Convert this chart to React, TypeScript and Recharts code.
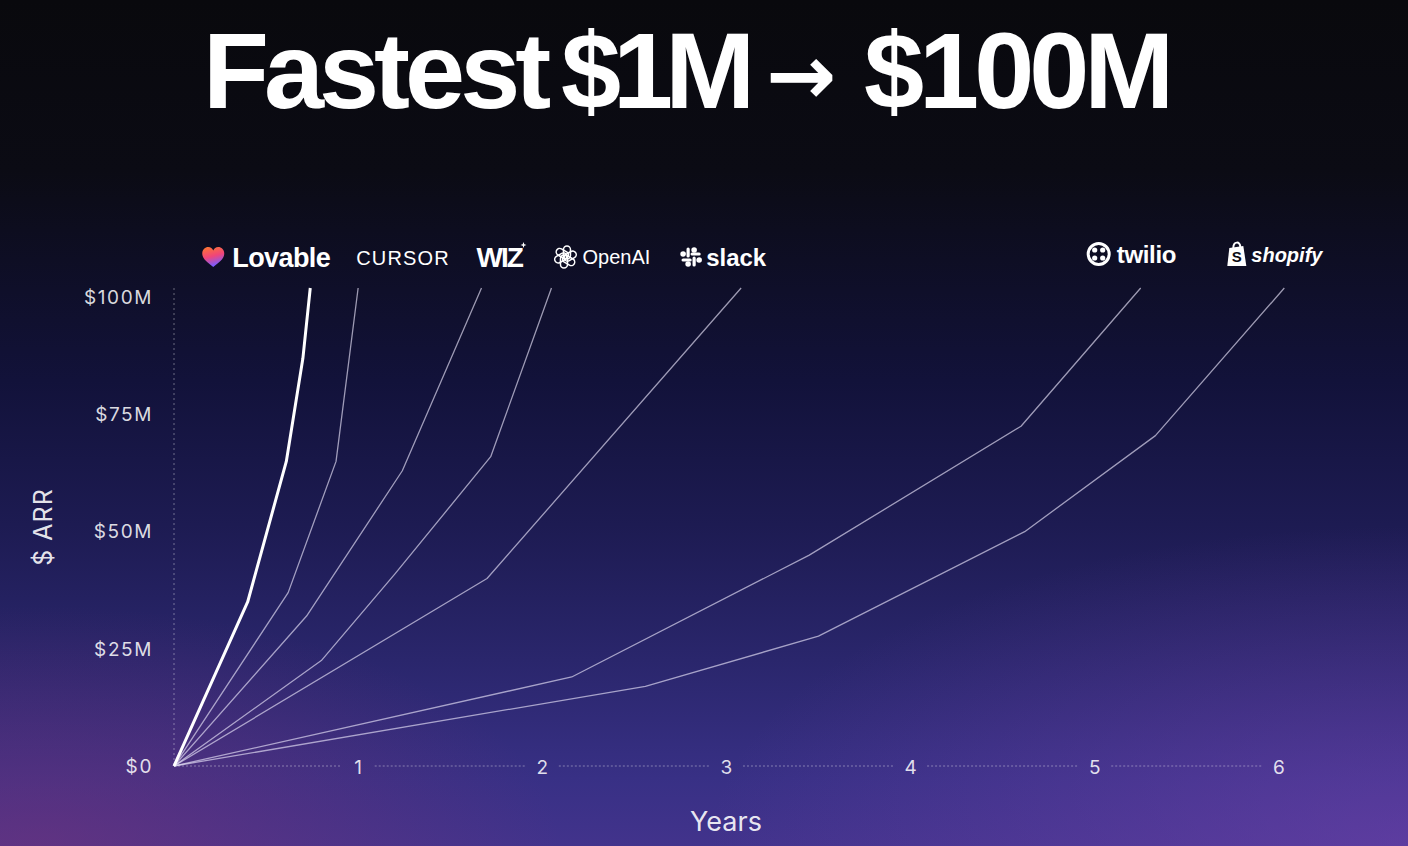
import React from 'react';
import { LineChart, Line, XAxis, YAxis, ReferenceLine, Label } from 'recharts';

// years since $1M ARR -> $ARR in millions
const lovableYears = [0, 0.4, 0.61, 0.7, 0.74];
const lovableArr = [0, 35, 65, 87, 102];
const cursorYears = [0, 0.62, 0.88, 1.0];
const cursorArr = [0, 37, 65, 102];
const wizYears = [0, 0.72, 1.24, 1.67];
const wizArr = [0, 32, 63, 102];
const openaiYears = [0, 0.8, 1.2, 1.72, 2.05];
const openaiArr = [0, 22.5, 41, 66, 102];
const slackYears = [0, 1.7, 3.08];
const slackArr = [0, 40, 102];
const twilioYears = [0, 2.16, 3.45, 4.6, 5.25];
const twilioArr = [0, 19, 45, 72.5, 102];
const shopifyYears = [0, 2.56, 3.5, 4.62, 5.33, 6.03];
const shopifyArr = [0, 17, 27.7, 50, 70.5, 102];

const xTicks = [1, 2, 3, 4, 5, 6];
const yTicks = [0, 25, 50, 75, 100];

const series = [
  { name: 'Lovable', years: lovableYears, arr: lovableArr },
  { name: 'Cursor', years: cursorYears, arr: cursorArr },
  { name: 'Wiz', years: wizYears, arr: wizArr },
  { name: 'OpenAI', years: openaiYears, arr: openaiArr },
  { name: 'Slack', years: slackYears, arr: slackArr },
  { name: 'Twilio', years: twilioYears, arr: twilioArr },
  { name: 'Shopify', years: shopifyYears, arr: shopifyArr },
];

const thin = 'rgba(230,226,248,0.66)';
const look: Record<string, { stroke: string; width: number; dx: number; dy: number }> = {
  Lovable: { stroke: '#ffffff', width: 3, dx: -108, dy: -31 },
  Cursor: { stroke: thin, width: 1.3, dx: -2, dy: -31 },
  Wiz: { stroke: thin, width: 1.3, dx: -5, dy: -31 },
  OpenAI: { stroke: thin, width: 1.3, dx: 2, dy: -31 },
  Slack: { stroke: thin, width: 1.3, dx: -59, dy: -31 },
  Twilio: { stroke: thin, width: 1.3, dx: -54, dy: -34 },
  Shopify: { stroke: thin, width: 1.3, dx: -57, dy: -34 },
};

const font = '"Liberation Sans", Arial, sans-serif';
const uiFont = 'Inter, "Liberation Sans", sans-serif';
const W = '#ffffff';

const LogoMark = ({ name }: { name: string }) => {
  switch (name) {
    case 'Lovable':
      return (
        <g>
          <defs>
            <linearGradient id="lovGrad" x1="0" y1="0" x2="0.3" y2="1">
              <stop offset="0" stopColor="#ff7a2a" />
              <stop offset="0.55" stopColor="#f0457a" />
              <stop offset="1" stopColor="#7b5cff" />
            </linearGradient>
          </defs>
          <path
            d="M11 10 C6 6 0 2 0 -3.5 C0 -7.5 3 -10 6 -10 C8.5 -10 10 -8.5 11 -6.5 C12 -8.5 13.5 -10 16 -10 C19 -10 22 -7.5 22 -3.5 C22 2 16 6 11 10 Z"
            fill="url(#lovGrad)"
          />
          <text x={30} y={9.5} fill={W} fontFamily={font} fontWeight={700} fontSize={27} letterSpacing={-0.6}>Lovable</text>
        </g>
      );
    case 'Cursor':
      return (
        <text x={0} y={7.5} fill={W} fontFamily={font} fontSize={20} letterSpacing={1.2}>CURSOR</text>
      );
    case 'Wiz':
      return (
        <g>
          <text x={0} y={10} fill={W} fontFamily={font} fontWeight={700} fontSize={28} letterSpacing={-2}>WIZ</text>
          <path d="M47 -15 L47.8 -12.8 L50 -12 L47.8 -11.2 L47 -9 L46.2 -11.2 L44 -12 L46.2 -12.8 Z" fill={W} />
        </g>
      );
    case 'OpenAI':
      return (
        <g>
          <g transform="translate(12,0)">
            {[0, 60, 120, 180, 240, 300].map((a) => (
              <rect key={a} x={-2} y={-11} width={7} height={13} rx={3.5} transform={`rotate(${a})`} fill="none" stroke={W} strokeWidth={1.5} />
            ))}
          </g>
          <text x={29} y={7} fill={W} fontFamily={font} fontSize={20}>OpenAI</text>
        </g>
      );
    case 'Slack':
      return (
        <g stroke={W} strokeWidth={3.2} strokeLinecap="round">
          <line x1={6} y1={-8} x2={6} y2={-1} />
          <line x1={12} y1={1} x2={12} y2={8} />
          <line x1={1} y1={3} x2={8} y2={3} />
          <line x1={10} y1={-3} x2={17} y2={-3} />
          <circle cx={12} cy={-7} r={1.2} fill={W} />
          <circle cx={6} cy={7} r={1.2} fill={W} />
          <circle cx={1} cy={-3} r={1.2} fill={W} />
          <circle cx={17} cy={3} r={1.2} fill={W} />
          <text x={24} y={8.5} stroke="none" fill={W} fontFamily={font} fontWeight={700} fontSize={24}>slack</text>
        </g>
      );
    case 'Twilio':
      return (
        <g>
          <circle cx={12} cy={0} r={10.5} fill="none" stroke={W} strokeWidth={3} />
          {[[-4, -4], [4, -4], [-4, 4], [4, 4]].map(([a, b]) => (
            <circle key={`${a}${b}`} cx={12 + a} cy={b} r={2.6} fill={W} />
          ))}
          <text x={30} y={8.5} fill={W} fontFamily={font} fontWeight={700} fontSize={24} letterSpacing={-0.3}>twilio</text>
        </g>
      );
    case 'Shopify':
      return (
        <g>
          <path d="M6 -6 C6 -13 13 -13 13 -7" fill="none" stroke={W} strokeWidth={2} />
          <path d="M2 -6 L16 -8 L19 12 L0 12 Z" fill={W} />
          <text x={9.5} y={8} textAnchor="middle" fill="#0c0c14" fontFamily={font} fontWeight={700} fontSize={15}>S</text>
          <text x={24} y={7.5} fill={W} fontFamily={font} fontWeight={700} fontStyle="italic" fontSize={20}>shopify</text>
        </g>
      );
    default:
      return null;
  }
};

const logoLabel = (name: string, last: number) => (props: any) => {
  const { x, y, index } = props;
  if (index !== last || x == null || y == null) return null;
  const s = look[name];
  return (
    <g transform={`translate(${x + s.dx},${y + s.dy})`}>
      <LogoMark name={name} />
    </g>
  );
};

const XTick = (props: any) => {
  const { x, y, payload } = props;
  return (
    <text x={x} y={y + 7.5} textAnchor="middle" fill="rgba(255,255,255,0.85)" fontFamily={uiFont} fontSize={19}>
      {payload.value}
    </text>
  );
};

const gap = 0.09;
const axisDots = 'rgba(255,255,255,0.38)';

const App = () => {
  return (
    <div
      style={{
        position: 'absolute',
        left: 0,
        top: 0,
        width: 1408,
        height: 846,
        overflow: 'hidden',
        background:
          'radial-gradient(ellipse 520px 240px at 40px 846px, rgba(125,50,120,0.5), rgba(125,50,120,0) 100%),' +
          'radial-gradient(ellipse 700px 320px at 1408px 846px, rgba(120,70,180,0.5), rgba(120,70,180,0) 100%),' +
          'linear-gradient(180deg, #09090d 0%, #0b0b14 20%, #12123a 45%, #1d1b52 62%, #2a266c 78%, #383085 92%, #42338c 100%)',
      }}
    >
      <svg width={1408} height={140} style={{ position: 'absolute', left: 0, top: 0 }}>
        <g fill={W} fontFamily={font} fontWeight={700} fontSize={108} letterSpacing={-5}>
          <text x={203} y={108}>Fastest</text>
          <text x={561} y={108} letterSpacing={-8}>$1M</text>
          <text x={766} y={104} fontFamily='"DejaVu Sans", sans-serif' fontSize={84} letterSpacing={0}>→</text>
          <text x={864} y={108}>$100M</text>
        </g>
      </svg>
      <LineChart
        width={1408}
        height={846}
        margin={{ top: 288, right: 120, bottom: 20, left: 0 }}
        style={{ position: 'absolute', left: 0, top: 0 }}
      >
        <XAxis
          type="number"
          dataKey="year"
          domain={[0, 6.05]}
          ticks={xTicks}
          height={60}
          axisLine={false}
          tickLine={false}
          tickSize={0}
          tickMargin={0}
          tick={<XTick />}
          interval={0}
        >
          <Label
            content={({ viewBox }: any) => (
              <text x={726} y={viewBox.y + 65} textAnchor="middle" fill="rgba(255,255,255,0.9)" fontFamily={uiFont} fontSize={27}>
                Years
              </text>
            )}
          />
        </XAxis>
        <YAxis
          type="number"
          domain={[0, 102]}
          ticks={yTicks}
          width={174}
          tickLine={false}
          tickSize={0}
          tickMargin={21}
          axisLine={{ stroke: axisDots, strokeDasharray: '2 3' }}
          tick={{ fill: 'rgba(255,255,255,0.85)', fontFamily: uiFont, fontSize: 19, letterSpacing: 1.6 }}
          tickFormatter={(v: number) => (v === 0 ? '$0' : `$${v}M`)}
        >
          <Label
            content={({ viewBox }: any) => {
              const cy = viewBox.y + viewBox.height / 2;
              return (
                <text x={52} y={cy} transform={`rotate(-90, 52, ${cy})`} textAnchor="middle" fill="rgba(255,255,255,0.9)" fontFamily={uiFont} fontSize={25} letterSpacing={1}>
                  $ ARR
                </text>
              );
            }}
          />
        </YAxis>
        {[0, ...xTicks.slice(0, -1)].map((t, i) => (
          <ReferenceLine
            key={t}
            segment={[
              { x: i === 0 ? 0 : t + gap, y: 0 },
              { x: xTicks[i] - gap, y: 0 },
            ]}
            stroke={axisDots}
            strokeDasharray="2 2"
            strokeWidth={1}
          />
        ))}
        {series
          .slice()
          .reverse()
          .map((s) => (
            <Line
              key={s.name}
              name={s.name}
              data={s.years.map((yr, i) => ({ year: yr, arr: s.arr[i] }))}
              dataKey="arr"
              type="linear"
              stroke={look[s.name].stroke}
              strokeWidth={look[s.name].width}
              strokeLinejoin="round"
              dot={false}
              activeDot={false}
              isAnimationActive={false}
              label={logoLabel(s.name, s.years.length - 1)}
            />
          ))}
      </LineChart>
    </div>
  );
};

export default App;
